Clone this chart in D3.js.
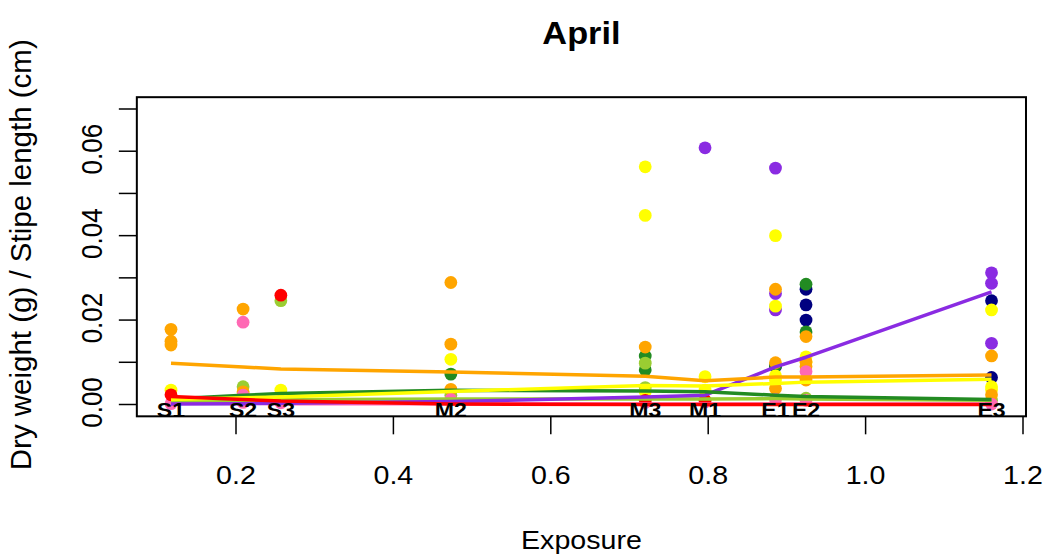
<!DOCTYPE html>
<html>
<head>
<meta charset="utf-8">
<script src="https://cdn.jsdelivr.net/npm/d3@7"></script>
<style>
  html, body { margin: 0; padding: 0; background: #fff; }
  svg { display: block; font-family: "Liberation Sans", Arial, Helvetica, sans-serif; }
</style>
</head>
<body>
<svg id="chart" width="1048" height="557"></svg>
<script>
// ---- data -----------------------------------------------------------
const sites = ["S1", "S2", "S3", "M2", "M3", "M1", "E1", "E2", "E3"];
const exposure = [0.1174, 0.209, 0.257, 0.473, 0.720, 0.796, 0.8855, 0.9243, 1.160];

const xTicks = [0.2, 0.4, 0.6, 0.8, 1.0, 1.2];
const yTicks = [0, 0.01, 0.02, 0.03, 0.04, 0.05, 0.06, 0.07];
const yTickLabels = ["0.00", "", "0.02", "", "0.04", "", "0.06", ""];

// individual measurements: [site, dry weight / stipe length]
const ptsPurple = [["M1", 0.0608], ["E1", 0.0560], ["E1", 0.0263], ["E1", 0.0224],
                   ["E3", 0.0312], ["E3", 0.0287], ["E3", 0.0145]];
const ptsNavy = [["E1", 0.0090], ["E2", 0.0273], ["E2", 0.0236], ["E2", 0.0200],
                 ["E3", 0.0246], ["E3", 0.0064]];
const ptsGreen = [["M2", 0.0072], ["M3", 0.0115], ["M3", 0.0082], ["E1", 0.0092],
                  ["E2", 0.0285], ["E2", 0.0172]];
const ptsYellowGreen = [["S2", 0.0042], ["S3", 0.0246], ["M2", 0.0022], ["M3", 0.0098],
                        ["M3", 0.0040], ["E2", 0.0015], ["E3", 0.0010]];
const ptsYellow = [["S1", 0.0034], ["S2", 0.0028], ["S3", 0.0034], ["M2", 0.0107],
                   ["M3", 0.0563], ["M3", 0.0448], ["M3", 0.0030], ["M1", 0.0066], ["M1", 0.0034],
                   ["E1", 0.0400], ["E1", 0.0233], ["E1", 0.0068], ["E1", 0.0058],
                   ["E2", 0.0113], ["E2", 0.0100], ["E3", 0.0224], ["E3", 0.0042], ["E3", 0.0035]];
const ptsOrange = [["S1", 0.0178], ["S1", 0.0150], ["S1", 0.0141], ["S2", 0.0226], ["S2", 0.0030],
                   ["M2", 0.0289], ["M2", 0.0143], ["M2", 0.0036], ["M3", 0.0136],
                   ["E1", 0.0273], ["E1", 0.0099], ["E1", 0.0038],
                   ["E2", 0.0161], ["E2", 0.0101], ["E2", 0.0090], ["E2", 0.0058],
                   ["E3", 0.0115], ["E3", 0.0023]];
const ptsPink = [["S1", 0.0002], ["S2", 0.0195], ["S2", 0.0022], ["S2", 0.0005], ["S3", 0.0004],
                 ["M2", 0.0012], ["M3", 0.0005], ["M1", 0.0006], ["E1", 0.0012],
                 ["E2", 0.0078], ["E2", 0.0010], ["E3", 0.0001]];
const ptsRed = [["S1", 0.0023], ["S3", 0.0259], ["M3", 0.0010], ["M1", 0.0010]];

// fitted trend per site (same order as `sites`)
const lineOrange = [0.0098, 0.0089, 0.0084, 0.0077, 0.0067, 0.0056, 0.0065, 0.0065, 0.0070];
const lineYellow = [0.0012, 0.0016, 0.0018, 0.0031, 0.0045, 0.0044, 0.0050, 0.0053, 0.0060];
const lineGreen = [0.0013, 0.0022, 0.0026, 0.0034, 0.0032, 0.0030, 0.0022, 0.0019, 0.0012];
const lineYellowGreen = [0.0008, 0.0010, 0.0011, 0.0013, 0.0013, 0.0013, 0.0014, 0.0013, 0.0010];
const linePurple = [0.0001, 0.0002, 0.0003, 0.0007, 0.0018, 0.0022, 0.0089, 0.0112, 0.0267];
const linePink = [0.0003, 0.0003, 0.0002, 0.0002, 0.0001, 0.0001, 0.0001, 0.0001, 0.0001];
const lineRed = [0.0019, 0.0012, 0.0008, 0.0001, 0.0000, 0.0000, 0.0000, 0.0000, 0.0000];

// ---- layout ---------------------------------------------------------
const svg = d3.select("#chart");
const sx = 1.1;           // horizontal text stretch of the device
const fs = 26;            // base font size

const x = d3.scaleLinear().domain([0.2, 1.2]).range([236, 1023]);
const y = d3.scaleLinear().domain([0, 0.07]).range([404.5, 109]);
const xlim = [0.074, 1.2038];
const ylim = [-0.0028, 0.0728];
const siteX = Object.fromEntries(sites.map((s, i) => [s, exposure[i]]));

svg.append("rect").attr("width", 1048).attr("height", 557).attr("fill", "#fff");

// points, drawn group by group
const pointGroups = [
  [ptsPurple, "#8A2BE2"], [ptsNavy, "#000080"], [ptsGreen, "#228B22"],
  [ptsYellowGreen, "#9ACD32"], [ptsYellow, "#FFFF00"], [ptsOrange, "#FFA500"],
  [ptsPink, "#FF69B4"], [ptsRed, "#FF0000"]
];
pointGroups.forEach(([pts, col]) => {
  svg.append("g").selectAll("circle").data(pts).join("circle")
    .attr("cx", d => x(siteX[d[0]]))
    .attr("cy", d => y(d[1]))
    .attr("r", 6.4)
    .attr("fill", col);
});

// trend lines
const line = d3.line().x((d, i) => x(exposure[i])).y(d => y(d));
const lineGroups = [
  [linePink, "#FF69B4"], [lineYellowGreen, "#9ACD32"], [linePurple, "#8A2BE2"],
  [lineGreen, "#228B22"], [lineYellow, "#FFFF00"], [lineOrange, "#FFA500"], [lineRed, "#FF0000"]
];
lineGroups.forEach(([vals, col]) => {
  svg.append("path").datum(vals)
    .attr("d", line)
    .attr("fill", "none")
    .attr("stroke", col)
    .attr("stroke-width", 3.5)
    .attr("stroke-linejoin", "round");
});

// site labels along the zero line
svg.append("g").selectAll("text").data(sites).join("text")
  .attr("transform", (d, i) => `translate(${x(exposure[i])},417) scale(${sx},1)`)
  .attr("text-anchor", "middle")
  .attr("font-weight", "bold")
  .attr("font-size", 21)
  .attr("fill", "#000")
  .text(d => d);

// plot frame
svg.append("rect")
  .attr("x", x(xlim[0])).attr("y", y(ylim[1]))
  .attr("width", x(xlim[1]) - x(xlim[0]))
  .attr("height", y(ylim[0]) - y(ylim[1]))
  .attr("fill", "none").attr("stroke", "#000").attr("stroke-width", 2);

// x axis
const xAxisY = y(ylim[0]);
const gx = svg.append("g");
gx.selectAll("line").data(xTicks).join("line")
  .attr("x1", d => x(d)).attr("x2", d => x(d))
  .attr("y1", xAxisY).attr("y2", xAxisY + 18)
  .attr("stroke", "#000").attr("stroke-width", 1.5);
gx.selectAll("text").data(xTicks).join("text")
  .attr("transform", d => `translate(${x(d)},484) scale(${sx},1)`)
  .attr("text-anchor", "middle")
  .attr("font-size", fs)
  .text(d => d3.format(".1f")(d));

// y axis
const yAxisX = x(xlim[0]);
const gy = svg.append("g");
gy.selectAll("line").data(yTicks).join("line")
  .attr("x1", yAxisX - 18).attr("x2", yAxisX)
  .attr("y1", d => y(d)).attr("y2", d => y(d))
  .attr("stroke", "#000").attr("stroke-width", 1.5);
gy.selectAll("text").data(yTicks).join("text")
  .attr("transform", d => `translate(102,${y(d) - 2}) scale(${sx},1) rotate(-90)`)
  .attr("text-anchor", "middle")
  .attr("font-size", fs)
  .text((d, i) => yTickLabels[i]);

// titles
const midX = (x(xlim[0]) + x(xlim[1])) / 2;
const midY = (y(ylim[0]) + y(ylim[1])) / 2;
svg.append("text")
  .attr("transform", `translate(${midX},44) scale(${sx},1)`)
  .attr("text-anchor", "middle").attr("font-weight", "bold")
  .attr("font-size", fs * 1.2)
  .text("April");
svg.append("text")
  .attr("transform", `translate(${midX},549) scale(${sx},1)`)
  .attr("text-anchor", "middle")
  .attr("font-size", fs)
  .text("Exposure");
svg.append("text")
  .attr("transform", `translate(31,${midY - 2}) scale(0.97,1) rotate(-90)`)
  .attr("text-anchor", "middle")
  .attr("font-size", 29.5)
  .text("Dry weight (g) / Stipe length (cm)");
</script>
</body>
</html>
